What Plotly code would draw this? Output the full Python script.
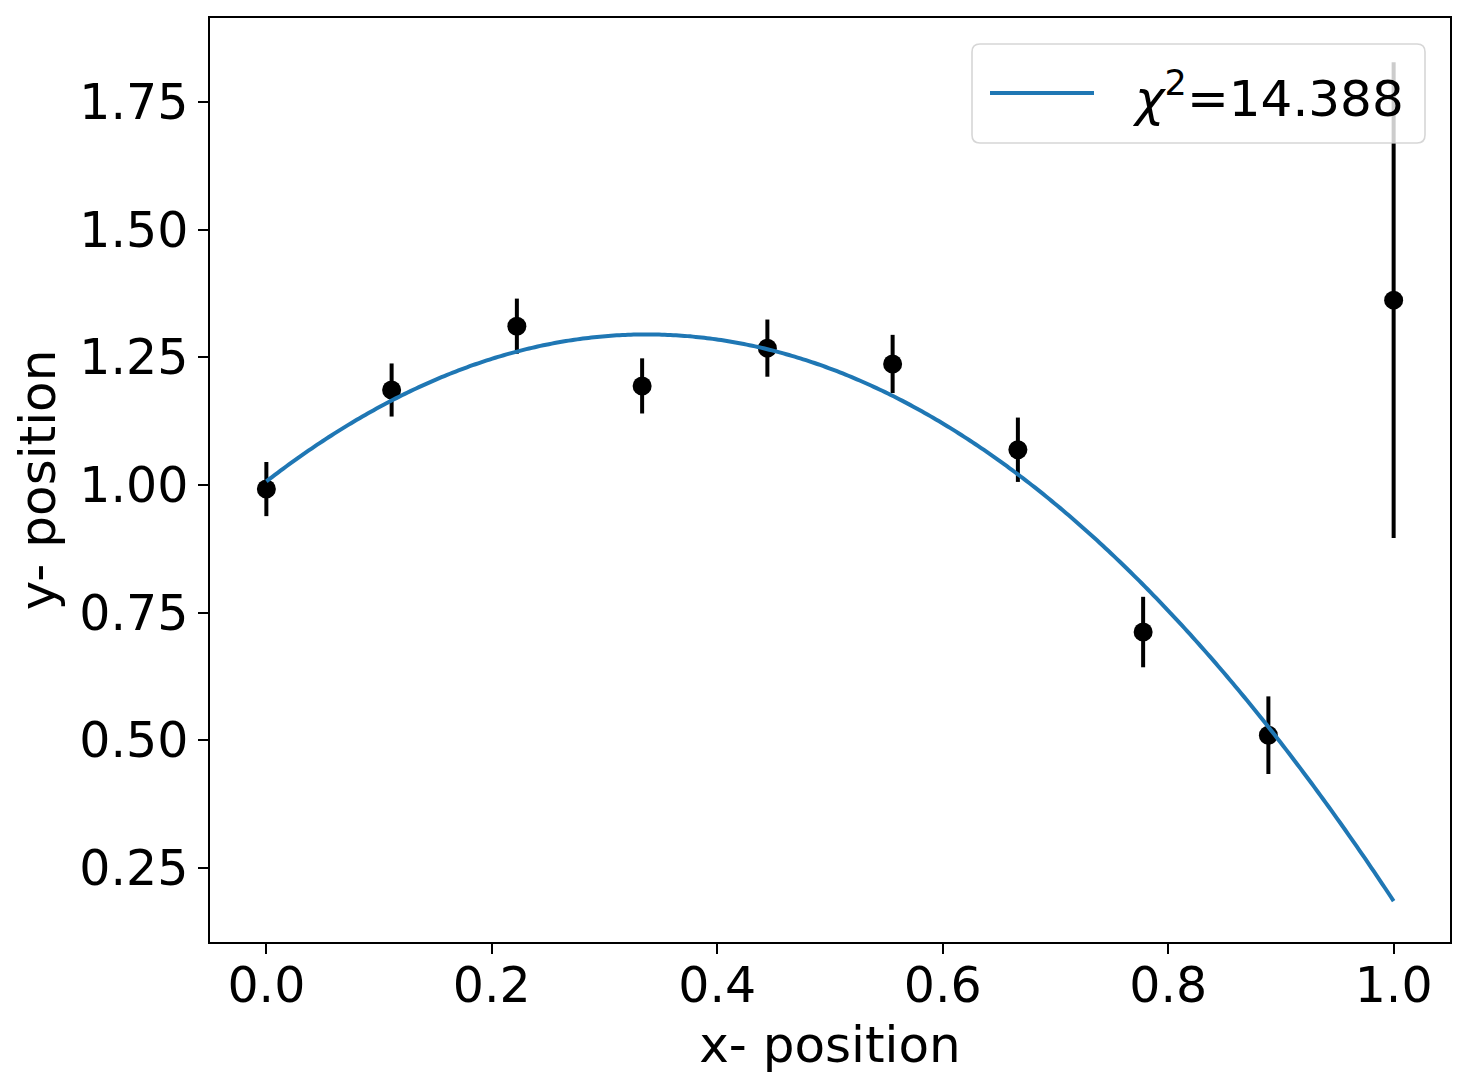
import numpy as np
import plotly.graph_objects as go

# ---- data ----
x_data = [0.0, 1/9, 2/9, 3/9, 4/9, 5/9, 6/9, 7/9, 8/9, 1.0]
y_data = [0.992, 1.186, 1.311, 1.194, 1.268, 1.237, 1.069, 0.712, 0.510, 1.362]
y_err = [0.053, 0.052, 0.054, 0.054, 0.056, 0.057, 0.063, 0.069, 0.076, 0.466]
chi2_label = "14.388"
x_ticks = [0.0, 0.2, 0.4, 0.6, 0.8, 1.0]
y_ticks = [0.25, 0.50, 0.75, 1.00, 1.25, 1.50, 1.75]

# weighted quadratic fit of the data (as in the original chi^2 fit)
coef = np.polyfit(x_data, y_data, 2, w=1/np.array(y_err))
x_fit = np.linspace(0, 1, 400)
y_fit = np.polyval(coef, x_fit)

# page body has an 8px margin: shrink the figure so the plot lands where the reference has it
OFF = 8
W, H = 1469 - OFF, 1090 - OFF
L, R, T, B = 210 - OFF, 19, 18 - OFF, 148
pw, ph = W - L - R, H - T - B
FONT = "DejaVu Sans"
FS = 49

fig = go.Figure()
fig.add_trace(go.Scatter(
    x=x_data, y=y_data, mode="markers",
    marker=dict(color="black", size=19),
    error_y=dict(type="data", array=y_err, visible=True, color="black",
                 thickness=4, width=0),
    showlegend=False, hoverinfo="skip"))
fig.add_trace(go.Scatter(
    x=x_fit, y=y_fit, mode="lines",
    line=dict(color="#1f77b4", width=4, simplify=False),
    showlegend=False))


# manual matplotlib-style legend (rounded box); reference pixel coords -> paper
def px2x(p):
    return (p - OFF - L) / pw


def px2y(p):
    return (H - B - (p - OFF)) / ph


x0, x1, y0, y1, r = 972, 1425, 44, 143, 8
path = (f"M {px2x(x0 + r)} {px2y(y0)} L {px2x(x1 - r)} {px2y(y0)} "
        f"Q {px2x(x1)} {px2y(y0)} {px2x(x1)} {px2y(y0 + r)} "
        f"L {px2x(x1)} {px2y(y1 - r)} Q {px2x(x1)} {px2y(y1)} {px2x(x1 - r)} {px2y(y1)} "
        f"L {px2x(x0 + r)} {px2y(y1)} Q {px2x(x0)} {px2y(y1)} {px2x(x0)} {px2y(y1 - r)} "
        f"L {px2x(x0)} {px2y(y0 + r)} Q {px2x(x0)} {px2y(y0)} {px2x(x0 + r)} {px2y(y0)} Z")
shapes = [
    dict(type="path", xref="paper", yref="paper", path=path,
         fillcolor="rgba(255,255,255,0.8)", line=dict(color="rgba(204,204,204,0.8)", width=1.6),
         layer="above"),
    dict(type="line", xref="paper", yref="paper",
         x0=px2x(990), x1=px2x(1094), y0=px2y(93), y1=px2y(93),
         line=dict(color="#1f77b4", width=4), layer="above"),
]
annotations = [
    dict(xref="paper", yref="paper", x=px2x(1130), y=px2y(95),
         xanchor="left", yanchor="middle", showarrow=False,
         text=f"<i>χ</i><sup>2</sup>={chi2_label}",
         font=dict(family=FONT, size=50, color="black"))
]

axis_common = dict(showline=True, linecolor="black", linewidth=1.6, mirror=True,
                   ticks="outside", ticklen=10, tickwidth=1.6, tickcolor="black",
                   showgrid=False, zeroline=False,
                   tickfont=dict(family=FONT, size=FS, color="black"))

fig.update_layout(
    width=W, height=H,
    margin=dict(l=L, r=R, t=T, b=B, autoexpand=False),
    paper_bgcolor="white", plot_bgcolor="white",
    font=dict(family=FONT, size=FS, color="black"),
    shapes=shapes, annotations=annotations,
    xaxis=dict(range=[-0.05, 1.05], tickvals=x_ticks, tickformat=".1f",
               title=dict(text="x- position", font=dict(family=FONT, size=50), standoff=14),
               ticklabelstandoff=-11, **axis_common),
    yaxis=dict(range=[0.105, 1.9145], tickvals=y_ticks, tickformat=".2f",
               title=dict(text="y- position", font=dict(family=FONT, size=50), standoff=8),
               ticklabelstandoff=0, **axis_common),
)

fig.write_html("out.html")
